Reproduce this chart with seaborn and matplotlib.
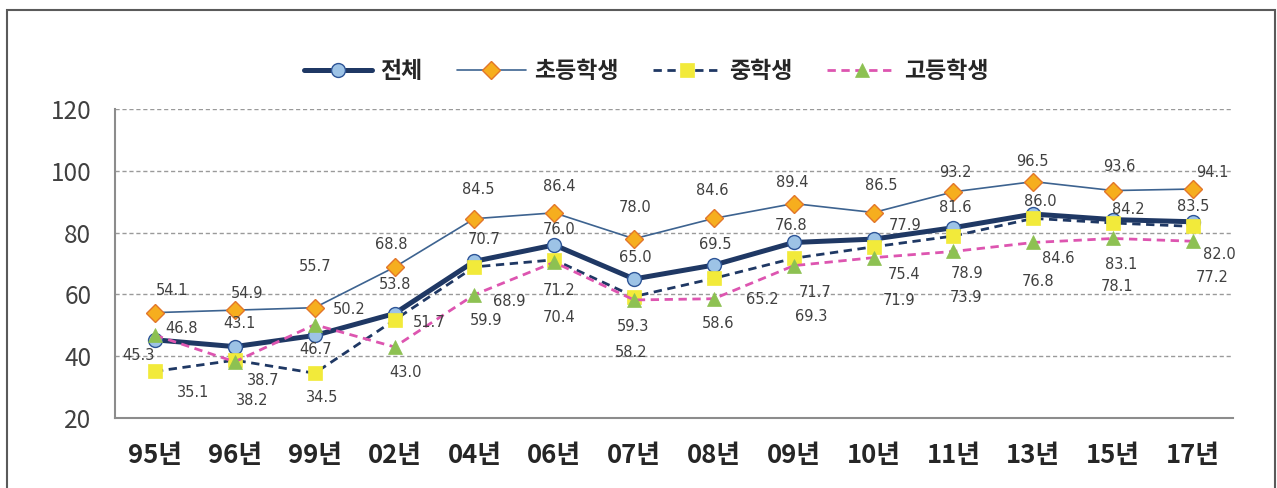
import matplotlib
matplotlib.use("Agg")
import matplotlib.pyplot as plt
from matplotlib.patches import Rectangle
import numpy as np
import pandas as pd
import seaborn as sns

# ---- data -------------------------------------------------------------
years = ["95년", "96년", "99년", "02년", "04년", "06년", "07년",
         "08년", "09년", "10년", "11년", "13년", "15년", "17년"]
total = [45.3, 43.1, 46.7, 53.8, 70.7, 76.0, 65.0, 69.5, 76.8, 77.9, 81.6, 86.0, 84.2, 83.5]
elementary = [54.1, 54.9, 55.7, 68.8, 84.5, 86.4, 78.0, 84.6, 89.4, 86.5, 93.2, 96.5, 93.6, 94.1]
middle = [35.1, 38.7, 34.5, 51.7, 68.9, 71.2, 59.3, 65.2, 71.7, 75.4, 78.9, 84.6, 83.1, 82.0]
high = [46.8, 38.2, 50.2, 43.0, 59.9, 70.4, 58.2, 58.6, 69.3, 71.9, 73.9, 76.8, 78.1, 77.2]

series_names = ["전체", "초등학생", "중학생", "고등학생"]

df = pd.DataFrame({"pos": np.arange(len(years)), "year": years,
                   "전체": total, "초등학생": elementary,
                   "중학생": middle, "고등학생": high})

# ---- label nudges (pixels, x right / y up) ---------------------------
label_offsets = {
    "초등학생": [(17, 22), (12, 17), (0, 41), (-3, 23), (4, 29), (5, 26), (1, 31),
             (-2, 28), (-2, 21), (8, 27), (2, 19), (-1, 20), (6, 24), (19, 17)],
    "전체": [(-16, -16), (5, 23), (1, -14), (0, 29), (10, 22), (5, 15), (1, 21),
           (1, 21), (-3, 17), (31, 14), (2, 20), (7, 13), (15, 10), (0, 15)],
    "중학생": [(38, -21), (28, -20), (7, -24), (35, -2), (35, -35), (5, -31), (-1, -30),
            (48, -21), (21, -34), (30, -28), (14, -38), (25, -40), (8, -41), (26, -28)],
    "고등학생": [(27, 7), (17, -39), (35, 15), (11, -26), (12, -26), (5, -55), (-3, -53),
             (4, -25), (17, -51), (25, -43), (13, -46), (5, -39), (4, -48), (19, -36)],
}

# ---- styles -----------------------------------------------------------
styles = {
    "전체": dict(color="#1F3864", lw=3.6, marker="o", markersize=10,
               markerfacecolor="#9DC3E6", markeredgecolor="#2E5597",
               markeredgewidth=1.0, linestyle="-"),
    "초등학생": dict(color="#3D6390", lw=1.2, marker="D", markersize=9,
                 markerfacecolor="#F6AE1E", markeredgecolor="#E2762A",
                 markeredgewidth=1.0, linestyle="-"),
    "중학생": dict(color="#1F3864", lw=2.0, marker="s", markersize=9.5,
                markerfacecolor="#F2EA3A", markeredgecolor="#F2EA3A",
                markeredgewidth=0.5, linestyle=(0, (3, 2))),
    "고등학생": dict(color="#DD55B0", lw=2.0, marker="^", markersize=10.5,
                 markerfacecolor="#8DC152", markeredgecolor="#8DC152",
                 markeredgewidth=0.5, linestyle=(0, (3, 2))),
}

sns.set_theme(style="white")
plt.rcParams["font.family"] = ["Noto Sans CJK KR", "DejaVu Sans"]

fig = plt.figure(figsize=(12.77, 4.88), dpi=100)
ax = fig.add_axes([115 / 1277, 1 - 418 / 488, (1233 - 115) / 1277, (418 - 109) / 488])

for name in series_names:
    sns.lineplot(data=df, x="pos", y=name, ax=ax, label=name, zorder=3,
                 **styles[name])

for name in series_names:
    for x, v, (dx, dy) in zip(df["pos"], df[name], label_offsets[name]):
        ax.annotate(f"{v:.1f}", (x, v), xytext=(dx, dy), textcoords="offset pixels",
                    ha="center", va="center", fontsize=10.5, color="#404040",
                    family="DejaVu Sans", zorder=5)

# ---- axes -------------------------------------------------------------
ax.set_xlim(-0.5, len(years) - 0.5)
ax.set_ylim(20, 120)
ax.set_yticks(np.arange(20, 121, 20))
ax.set_yticklabels([str(t) for t in range(20, 121, 20)], fontsize=17.5, color="#404040")
ax.set_xticks(df["pos"])
ax.set_xticklabels(years, fontsize=18.5, fontweight="bold", color="#262626")
ax.set_xticks(np.arange(-0.5, len(years), 1), minor=True)
ax.tick_params(axis="x", which="major", length=0, pad=17)
ax.tick_params(axis="x", which="minor", length=5, width=1.2, direction="in",
               color="#8C8C8C")
ax.tick_params(axis="y", length=0, pad=17)
ax.set_xlabel("")
ax.set_ylabel("")

ax.grid(False)
for t in range(40, 121, 20):
    ax.axhline(t, color="#9A9A9A", lw=1.0, ls=(0, (3, 2)), zorder=1)

for side in ["top", "right"]:
    ax.spines[side].set_visible(False)
for side in ["left", "bottom"]:
    ax.spines[side].set_color("#8C8C8C")
    ax.spines[side].set_linewidth(1.5)

# legend across the top
handles, labels = ax.get_legend_handles_labels()
ax.legend(handles, labels, loc="center", bbox_to_anchor=(646 / 1277, 1 - 72 / 488),
          bbox_transform=fig.transFigure, ncol=4, frameon=False,
          prop={"family": ["Noto Sans CJK KR", "DejaVu Sans"], "weight": "bold", "size": 16.5},
          handlelength=3.0, handletextpad=0.35, columnspacing=1.5, labelcolor="#262626")

# outer frame
fig.patches.append(Rectangle((7 / 1277, -0.05), (1275 - 7) / 1277, 1.05 - 10 / 488,
                             transform=fig.transFigure, fill=False,
                             edgecolor="#5A5A5A", lw=1.5))

fig.savefig("out.png", dpi=100)
